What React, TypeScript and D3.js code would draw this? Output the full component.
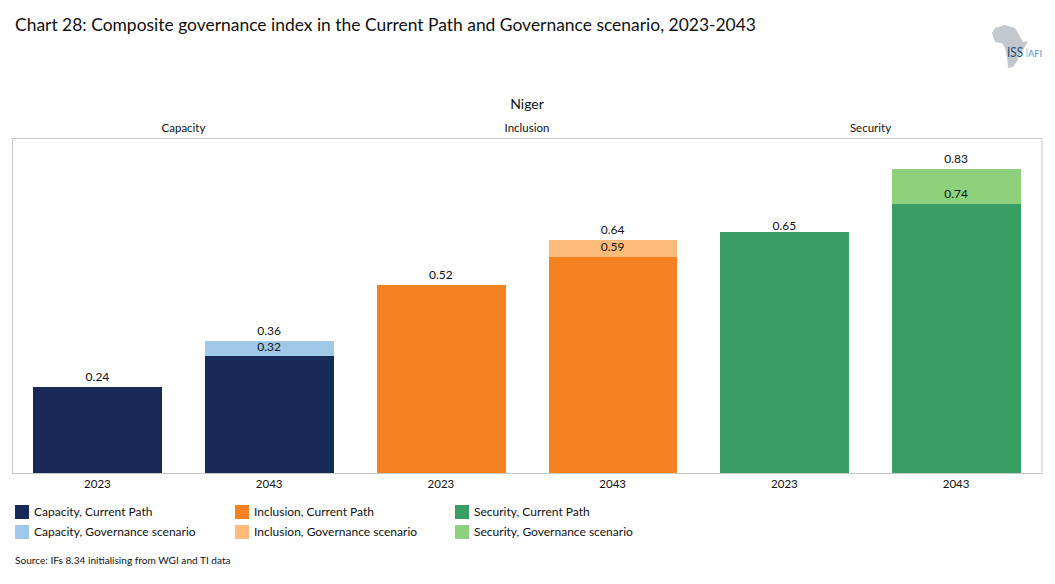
import React from "react";
import * as d3 from "d3";

const W = 1055, H = 584;
const FONT = "Lato, 'Open Sans', sans-serif";
const title = "Chart 28: Composite governance index in the Current Path and Governance scenario, 2023-2043";
const country = "Niger";
const groups = ["Capacity", "Inclusion", "Security"];
const slots = ["Capacity 2023", "Capacity 2043", "Inclusion 2023", "Inclusion 2043", "Security 2023", "Security 2043"];
const slotYears = ["2023", "2043", "2023", "2043", "2023", "2043"];
const currentPath = [0.235, 0.32, 0.514, 0.59, 0.658, 0.735];
const currentLabels = ["0.24", "0.32", "0.52", "0.59", "0.65", "0.74"];
const governance = [null, 0.361, null, 0.637, null, 0.83];
const governanceLabels = ["", "0.36", "", "0.64", "", "0.83"];
const darkColors = ["#172957", "#172957", "#F58220", "#F58220", "#389E63", "#389E63"];
const lightColors = ["#9FC9E8", "#9FC9E8", "#FFBB7A", "#FFBB7A", "#8DD17C", "#8DD17C"];
const legendGroups = ["Capacity", "Inclusion", "Security"];
const legendDark = ["#172957", "#F58220", "#389E63"];
const legendLight = ["#9FC9E8", "#FFBB7A", "#8DD17C"];
const source = "Source: IFs 8.34 initialising from WGI and TI data";

const TXT = "#111";
const AFRICA = "M992 33 L995 28 L1005 25 L1015 28 L1018 33 L1023 42 L1028 41 L1023 50 L1018 57 L1018 60 L1013 67 L1008 68 L1007 57 L1005 48 L1002 43 L995 42 Z";

export default function App() {
  const x = d3.scaleBand<string>().domain(slots).range([11.9, 1042.3]).paddingInner(0.25).paddingOuter(0.125);
  const y = d3.scaleLinear().domain([0, 0.9]).range([473, 473 - 0.9 * 366]);
  const groupCenters = [183.5, 527, 870.5];
  const legendX = d3.scalePoint<string>().domain(legendGroups).range([15, 455]);
  return (
    <svg width={W} height={H} style={{ position: "absolute", left: 0, top: 0, background: "#fff" }} fontFamily={FONT} fill={TXT}>
      <text x={15} y={31} fontSize={17.45}>{title}</text>
      <g>
        <path d={AFRICA} fill="#C3C8CE" />
        <text x={1007} y={57} fontSize={14} textLength={16} lengthAdjust="spacingAndGlyphs" fill="#1F4A73">ISS</text>
        <rect x={1026.6} y={48} width={0.8} height={9} fill="#8FB8C8" />
        <text x={1028} y={56.5} fontSize={10} textLength={14} lengthAdjust="spacingAndGlyphs" fill="#4E94C6">AFI</text>
      </g>
      <text x={527} y={109} fontSize={14} textAnchor="middle">{country}</text>
      {groups.map((g, i) => (
        <text key={g} x={groupCenters[i]} y={132} fontSize={11.5} textAnchor="middle">{g}</text>
      ))}
      <rect x={12.5} y={138.5} width={1029.5} height={335} fill="#fff" stroke="#C9C9C9" strokeWidth={1} />
      {slots.map((s, i) => {
        const bx = x(s)!, bw = x.bandwidth(), cx = bx + bw / 2 - 0.3;
        const gv = governance[i];
        const lift = i === 4 ? 2.5 : i === 1 ? 5 : 6;
        return (
          <g key={s}>
            {gv !== null && <rect x={bx} width={bw} y={y(gv)} height={y(0) - y(gv)} fill={lightColors[i]} shapeRendering="crispEdges" />}
            <rect x={bx} width={bw} y={y(currentPath[i])} height={y(0) - y(currentPath[i])} fill={darkColors[i]} shapeRendering="crispEdges" />
            <text x={cx} y={y(currentPath[i]) - lift} fontSize={12} textAnchor="middle">{currentLabels[i]}</text>
            {gv !== null && <text x={cx} y={y(gv) - 6} fontSize={12} textAnchor="middle">{governanceLabels[i]}</text>}
            <text x={cx} y={488} fontSize={11.5} textAnchor="middle">{slotYears[i]}</text>
          </g>
        );
      })}
      {legendGroups.map((g, i) => {
        const lx = legendX(g)!;
        return (
          <g key={g}>
            <rect x={lx} y={505} width={14} height={14} fill={legendDark[i]} />
            <rect x={lx} y={525} width={14} height={14} fill={legendLight[i]} />
            <text x={lx + 19} y={516} fontSize={12}>{g}, Current Path</text>
            <text x={lx + 19} y={536} fontSize={12.03}>{g}, Governance scenario</text>
          </g>
        );
      })}
      <text x={15} y={564} fontSize={10.1}>{source}</text>
    </svg>
  );
}
